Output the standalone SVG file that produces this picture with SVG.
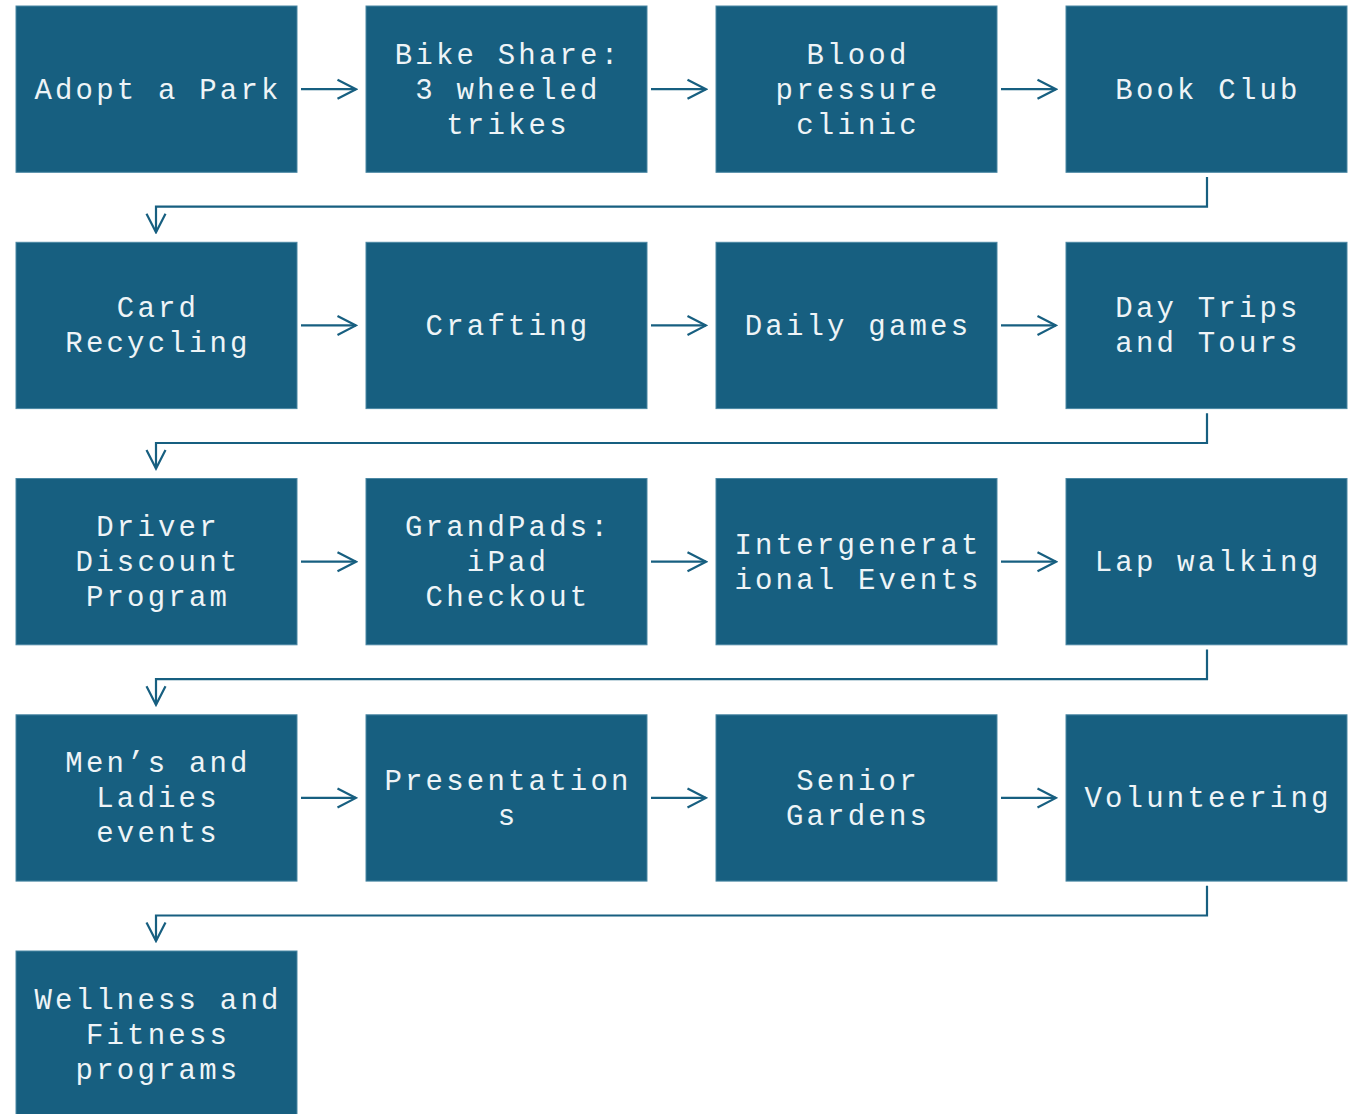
<svg xmlns="http://www.w3.org/2000/svg" width="1358" height="1114" viewBox="0 0 1358 1114">
<style>
.box{fill:#175f80;stroke:#4a87a3;stroke-width:1}
.lbl{font-family:"Liberation Mono","DejaVu Sans Mono",monospace;font-size:29px;letter-spacing:3.2px;fill:#eef4f7;text-anchor:middle}
.edge{fill:none;stroke:#175f80;stroke-width:2.2}
</style>
<defs>
<marker id="arr" markerUnits="userSpaceOnUse" viewBox="0 0 22 22" refX="20" refY="11" markerWidth="22" markerHeight="22" orient="auto">
<path d="M1.5,1.5 L20,11 L1.5,20.5" fill="none" stroke="#175f80" stroke-width="2.2"/>
</marker>
</defs>
<rect width="1358" height="1114" fill="#ffffff"/>
<g id="connectors">
<path class="edge" d="M301,89.2 H356" marker-end="url(#arr)"/>
<path class="edge" d="M651,89.2 H706" marker-end="url(#arr)"/>
<path class="edge" d="M1001,89.2 H1056" marker-end="url(#arr)"/>
<path class="edge" d="M1207,177 V206.7 H156 V232.3" marker-end="url(#arr)"/>
<path class="edge" d="M301,325.4 H356" marker-end="url(#arr)"/>
<path class="edge" d="M651,325.4 H706" marker-end="url(#arr)"/>
<path class="edge" d="M1001,325.4 H1056" marker-end="url(#arr)"/>
<path class="edge" d="M1207,413.3 V443 H156 V468.5" marker-end="url(#arr)"/>
<path class="edge" d="M301,561.7 H356" marker-end="url(#arr)"/>
<path class="edge" d="M651,561.7 H706" marker-end="url(#arr)"/>
<path class="edge" d="M1001,561.7 H1056" marker-end="url(#arr)"/>
<path class="edge" d="M1207,649.5 V679.2 H156 V704.8" marker-end="url(#arr)"/>
<path class="edge" d="M301,797.9 H356" marker-end="url(#arr)"/>
<path class="edge" d="M651,797.9 H706" marker-end="url(#arr)"/>
<path class="edge" d="M1001,797.9 H1056" marker-end="url(#arr)"/>
<path class="edge" d="M1207,885.8 V915.5 H156 V941" marker-end="url(#arr)"/>
</g>
<g id="n1"><rect class="box" x="16" y="6" width="281" height="166.3"/><text class="lbl" x="158" y="98.5">Adopt a Park</text></g>
<g id="n2"><rect class="box" x="366" y="6" width="281" height="166.3"/><text class="lbl"><tspan x="508" y="63.5">Bike Share:</tspan><tspan x="508" y="98.5">3 wheeled</tspan><tspan x="508" y="133.5">trikes</tspan></text></g>
<g id="n3"><rect class="box" x="716" y="6" width="281" height="166.3"/><text class="lbl"><tspan x="858" y="63.5">Blood</tspan><tspan x="858" y="98.5">pressure</tspan><tspan x="858" y="133.5">clinic</tspan></text></g>
<g id="n4"><rect class="box" x="1066" y="6" width="281" height="166.3"/><text class="lbl" x="1208" y="98.5">Book Club</text></g>
<g id="n5"><rect class="box" x="16" y="242.3" width="281" height="166.3"/><text class="lbl"><tspan x="158" y="317.2">Card</tspan><tspan x="158" y="352.2">Recycling</tspan></text></g>
<g id="n6"><rect class="box" x="366" y="242.3" width="281" height="166.3"/><text class="lbl" x="508" y="334.7">Crafting</text></g>
<g id="n7"><rect class="box" x="716" y="242.3" width="281" height="166.3"/><text class="lbl" x="858" y="334.7">Daily games</text></g>
<g id="n8"><rect class="box" x="1066" y="242.3" width="281" height="166.3"/><text class="lbl"><tspan x="1208" y="317.2">Day Trips</tspan><tspan x="1208" y="352.2">and Tours</tspan></text></g>
<g id="n9"><rect class="box" x="16" y="478.5" width="281" height="166.3"/><text class="lbl"><tspan x="158" y="536">Driver</tspan><tspan x="158" y="571">Discount</tspan><tspan x="158" y="606">Program</tspan></text></g>
<g id="n10"><rect class="box" x="366" y="478.5" width="281" height="166.3"/><text class="lbl"><tspan x="508" y="536">GrandPads:</tspan><tspan x="508" y="571">iPad</tspan><tspan x="508" y="606">Checkout</tspan></text></g>
<g id="n11"><rect class="box" x="716" y="478.5" width="281" height="166.3"/><text class="lbl"><tspan x="858" y="553.5">Intergenerat</tspan><tspan x="858" y="588.5">ional Events</tspan></text></g>
<g id="n12"><rect class="box" x="1066" y="478.5" width="281" height="166.3"/><text class="lbl" x="1208" y="571">Lap walking</text></g>
<g id="n13"><rect class="box" x="16" y="714.8" width="281" height="166.3"/><text class="lbl"><tspan x="158" y="772.2">Men’s and</tspan><tspan x="158" y="807.2">Ladies</tspan><tspan x="158" y="842.2">events</tspan></text></g>
<g id="n14"><rect class="box" x="366" y="714.8" width="281" height="166.3"/><text class="lbl"><tspan x="508" y="789.7">Presentation</tspan><tspan x="508" y="824.7">s</tspan></text></g>
<g id="n15"><rect class="box" x="716" y="714.8" width="281" height="166.3"/><text class="lbl"><tspan x="858" y="789.7">Senior</tspan><tspan x="858" y="824.7">Gardens</tspan></text></g>
<g id="n16"><rect class="box" x="1066" y="714.8" width="281" height="166.3"/><text class="lbl" x="1208" y="807.2">Volunteering</text></g>
<g id="n17"><rect class="box" x="16" y="951" width="281" height="166.3"/><text class="lbl"><tspan x="158" y="1008.5">Wellness and</tspan><tspan x="158" y="1043.5">Fitness</tspan><tspan x="158" y="1078.5">programs</tspan></text></g>
</svg>
